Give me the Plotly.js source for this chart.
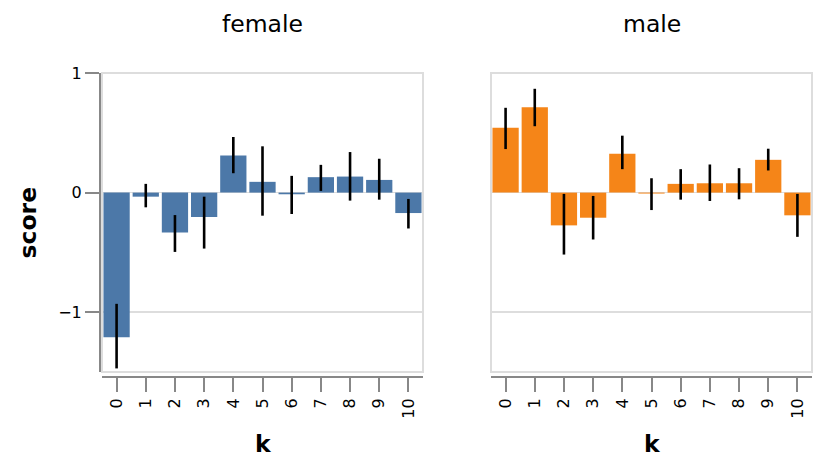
<!DOCTYPE html>
<html>
<head>
<meta charset="utf-8">
<script src="https://cdn.plot.ly/plotly-3.0.1.min.js"></script>
<style>
  body { margin: 0; background: #fff; }
  #plot { width: 830px; height: 472px; }
</style>
</head>
<body>
<div id="plot"></div>
<script>
// k values (x categories)
var k = [0, 1, 2, 3, 4, 5, 6, 7, 8, 9, 10]
var panels = ['female', 'male']

// mean score per k
var femaleScore = [-1.21, -0.034, -0.333, -0.204, 0.311, 0.09, -0.014, 0.129, 0.134, 0.106, -0.171]
var femaleLo    = [-1.47, -0.123, -0.496, -0.468, 0.162, -0.193, -0.179, 0.014, -0.067, -0.059, -0.30]
var femaleHi    = [-0.93, 0.073, -0.188, -0.034, 0.465, 0.387, 0.14, 0.232, 0.339, 0.283, -0.053]

var maleScore = [0.543, 0.714, -0.274, -0.21, 0.325, -0.008, 0.073, 0.078, 0.078, 0.274, -0.19]
var maleLo    = [0.364, 0.555, -0.518, -0.392, 0.196, -0.146, -0.059, -0.07, -0.056, 0.185, -0.37]
var maleHi    = [0.709, 0.868, -0.011, -0.028, 0.476, 0.12, 0.196, 0.235, 0.204, 0.367, -0.011]

var yTicks = [-1, 0, 1]

var W = 830, H = 472
function px(x) { return x / W }
function py(y) { return (H - y) / H }

// error bar sizes from the interval ends
function up(s, hi) { return s.map(function (v, i) { return hi[i] - v }) }
function down(s, lo) { return s.map(function (v, i) { return v - lo[i] }) }

function barTrace(score, lo, hi, color, xa, ya) {
  return {
    type: 'bar',
    x: k,
    y: score,
    xaxis: xa,
    yaxis: ya,
    marker: { color: color },
    error_y: {
      type: 'data',
      symmetric: false,
      array: up(score, hi),
      arrayminus: down(score, lo),
      color: '#000',
      thickness: 2.6,
      width: 0
    },
    hoverinfo: 'skip',
    showlegend: false
  }
}

var data = [
  barTrace(femaleScore, femaleLo, femaleHi, '#4c78a8', 'x', 'y'),
  barTrace(maleScore, maleLo, maleHi, '#f58518', 'x2', 'y2')
]

var yDomain = [py(372), py(73)]

function xAxis(domain) {
  return {
    domain: domain,
    anchor: 'free',
    position: py(377),
    range: [-0.5, 10.5],
    tickvals: k,
    ticktext: k.map(String),
    tickangle: -90,
    ticks: 'outside',
    ticklen: 14,
    tickwidth: 2,
    tickcolor: '#888',
    showline: true,
    linecolor: '#888',
    linewidth: 2,
    showgrid: false,
    zeroline: false,
    tickfont: { size: 16, color: '#000' },
    fixedrange: true
  }
}

var layout = {
  width: W,
  height: H,
  margin: { l: 0, r: 0, t: 0, b: 0 },
  paper_bgcolor: '#fff',
  plot_bgcolor: '#fff',
  font: { family: 'DejaVu Sans', color: '#000' },
  bargap: 0.1,
  xaxis: xAxis([px(102), px(423)]),
  xaxis2: xAxis([px(491), px(812)]),
  yaxis: {
    domain: yDomain,
    anchor: 'free',
    position: px(100),
    range: [-1.5, 1],
    tickvals: yTicks,
    ticks: 'outside',
    ticklen: 14,
    tickwidth: 2,
    tickcolor: '#888',
    showline: true,
    linecolor: '#888',
    linewidth: 2,
    showgrid: true,
    gridcolor: '#ddd',
    gridwidth: 1.6,
    zeroline: true,
    zerolinecolor: '#ddd',
    zerolinewidth: 1.6,
    tickfont: { size: 16, color: '#000' },
    fixedrange: true
  },
  yaxis2: {
    domain: yDomain,
    anchor: 'x2',
    matches: 'y',
    range: [-1.5, 1],
    tickvals: yTicks,
    showticklabels: false,
    ticks: '',
    showline: false,
    showgrid: true,
    gridcolor: '#ddd',
    gridwidth: 1.6,
    zeroline: true,
    zerolinecolor: '#ddd',
    zerolinewidth: 1.6,
    fixedrange: true
  },
  shapes: [
    { type: 'rect', xref: 'x domain', yref: 'y domain', x0: 0, x1: 1, y0: 0, y1: 1,
      line: { color: '#ddd', width: 2 }, layer: 'above' },
    { type: 'rect', xref: 'x2 domain', yref: 'y2 domain', x0: 0, x1: 1, y0: 0, y1: 1,
      line: { color: '#ddd', width: 2 }, layer: 'above' }
  ],
  annotations: [
    { text: panels[0], xref: 'paper', yref: 'paper', x: px(262.5), y: py(24),
      showarrow: false, font: { size: 23.5 }, xanchor: 'center', yanchor: 'middle' },
    { text: panels[1], xref: 'paper', yref: 'paper', x: px(651.5), y: py(24),
      showarrow: false, font: { size: 23.5 }, xanchor: 'center', yanchor: 'middle' },
    { text: '<b>score</b>', xref: 'paper', yref: 'paper', x: px(27.5), y: py(223),
      textangle: -90, showarrow: false, font: { size: 23.5 }, xanchor: 'center', yanchor: 'middle' },
    { text: '<b>k</b>', xref: 'paper', yref: 'paper', x: px(263), y: py(444),
      showarrow: false, font: { size: 23.5 }, xanchor: 'center', yanchor: 'middle' },
    { text: '<b>k</b>', xref: 'paper', yref: 'paper', x: px(652), y: py(444),
      showarrow: false, font: { size: 23.5 }, xanchor: 'center', yanchor: 'middle' }
  ]
}

Plotly.newPlot('plot', data, layout, { staticPlot: true, displayModeBar: false })
</script>
</body>
</html>
